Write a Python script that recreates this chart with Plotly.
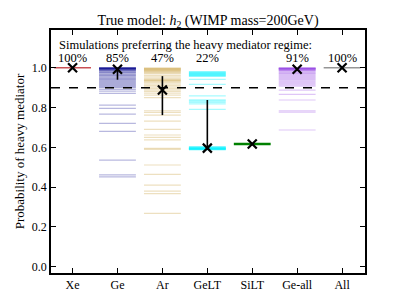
import plotly.graph_objects as go

categories = ["Xe", "Ge", "Ar", "GeLT", "SiLT", "Ge-all", "All"]
percent_labels = ["100%", "85%", "47%", "22%", "", "91%", "100%"]

xe_vals = [1.0]
ge_vals = [1.0, 1.0, 0.999, 0.998, 0.998, 0.997, 0.996, 0.995, 0.994, 0.993, 0.992, 0.99,
           0.988, 0.986, 0.984, 0.98, 0.977, 0.974, 0.97, 0.966, 0.962, 0.958, 0.953, 0.948,
           0.944, 0.94, 0.935, 0.93, 0.925, 0.92, 0.915, 0.91, 0.905, 0.9, 0.891, 0.883,
           0.871, 0.812, 0.796, 0.767, 0.72, 0.68, 0.536, 0.461, 0.451]
ar_vals = [0.999, 0.997, 0.995, 0.992, 0.99, 0.987, 0.985, 0.982, 0.978, 0.974, 0.97,
           0.962, 0.955, 0.948, 0.942, 0.938, 0.935, 0.932, 0.925, 0.918, 0.91, 0.903,
           0.895, 0.888, 0.88, 0.872, 0.862, 0.85, 0.784, 0.776, 0.762, 0.732, 0.69, 0.662,
           0.65, 0.637, 0.595, 0.59, 0.511, 0.464, 0.41, 0.38, 0.367, 0.268]
gelt_vals = [0.98, 0.978, 0.975, 0.972, 0.97, 0.967, 0.965, 0.962, 0.96, 0.957, 0.942,
             0.917, 0.859, 0.838, 0.832, 0.826, 0.818, 0.791, 0.603, 0.601, 0.599, 0.597,
             0.596, 0.595, 0.594, 0.593, 0.592, 0.591, 0.59, 0.589, 0.588]
silt_vals = [0.617]
geall_vals = [1.0, 0.999, 0.998, 0.997, 0.996, 0.995, 0.994, 0.993, 0.992, 0.99, 0.988,
              0.986, 0.984, 0.98, 0.976, 0.972, 0.968, 0.963, 0.958, 0.953, 0.948, 0.943,
              0.938, 0.932, 0.926, 0.92, 0.914, 0.908, 0.888, 0.866, 0.838, 0.784, 0.777,
              0.687]
all_vals = [1.0]

medians = [1.0, 0.993, 0.888, 0.596, 0.617, 0.993, 1.0]
err_upper = [1.0, 1.0, 0.958, 0.838, 0.617, 0.993, 1.0]
err_lower = [1.0, 0.94, 0.762, 0.596, 0.617, 0.993, 1.0]

threshold = 0.9

series = [xe_vals, ge_vals, ar_vals, gelt_vals, silt_vals, geall_vals, all_vals]
colors = ["rgba(200,80,85,1)", "rgba(0,0,139,0.28)", "rgba(184,134,11,0.26)",
          "rgba(0,240,255,0.35)", "rgba(0,128,0,1)", "rgba(138,43,226,0.27)",
          "rgba(150,150,150,1)"]
widths = [1.5, 1.2, 1.2, 1.3, 2.5, 1.2, 1.5]
half = 0.41

fig = go.Figure()
for i, vals in enumerate(series):
    for v in vals:
        fig.add_trace(go.Scatter(x=[i - half, i + half], y=[v, v], mode="lines",
                                 line=dict(color=colors[i], width=widths[i]),
                                 hoverinfo="skip", showlegend=False))

fig.add_trace(go.Scatter(
    x=list(range(len(categories))), y=medians, mode="markers",
    marker=dict(symbol="x-thin", size=9, line=dict(color="black", width=2.2), color="black"),
    error_y=dict(type="data", symmetric=False,
                 array=[u - m for u, m in zip(err_upper, medians)],
                 arrayminus=[m - l for m, l in zip(medians, err_lower)],
                 color="black", thickness=1.6, width=0),
    showlegend=False, hoverinfo="skip"))

fig.add_shape(type="line", xref="paper", x0=0, x1=1, yref="y", y0=threshold, y1=threshold,
              line=dict(color="black", width=1.5, dash="dash"))

font_family = "Liberation Serif"
fig.add_annotation(x=0.02, xref="paper", y=1.114, yref="y", xanchor="left",
                   text="Simulations preferring the heavy mediator regime:", showarrow=False,
                   font=dict(family=font_family, size=12.5, color="black"))
for i, t in enumerate(percent_labels):
    if t:
        fig.add_annotation(x=i, y=1.05, xref="x", yref="y", text=t, showarrow=False,
                           font=dict(family=font_family, size=12.5, color="black"))

fig.update_layout(
    width=397, height=296,
    margin=dict(l=43, r=40, t=22, b=31, autoexpand=False),
    paper_bgcolor="white", plot_bgcolor="white",
    font=dict(family=font_family, size=12, color="black"),
    title=dict(text="True model: <i>h</i><sub>2</sub> (WIMP mass=200GeV)",
               x=0.504, xanchor="center", y=0.96, yanchor="middle",
               font=dict(family=font_family, size=14, color="black")),
)
fig.update_xaxes(range=[-0.48, 6.51], tickvals=list(range(len(categories))), ticktext=categories,
                 ticks="inside", ticklen=5, tickwidth=1.2, tickcolor="black",
                 showline=True, linecolor="black", linewidth=1.5, mirror="ticks",
                 showgrid=False, zeroline=False, tickfont=dict(size=12), automargin=False)
fig.update_yaxes(range=[-0.032, 1.19], tickvals=[0, 0.2, 0.4, 0.6, 0.8, 1.0],
                 tickformat=".1f",
                 ticks="inside", ticklen=5, tickwidth=1.2, tickcolor="black",
                 showline=True, linecolor="black", linewidth=1.5, mirror="ticks",
                 showgrid=False, zeroline=False, tickfont=dict(size=12), automargin=False,
                 title=dict(text="Probability of heavy mediator", font=dict(size=13), standoff=4))

fig.write_html("out.html")
